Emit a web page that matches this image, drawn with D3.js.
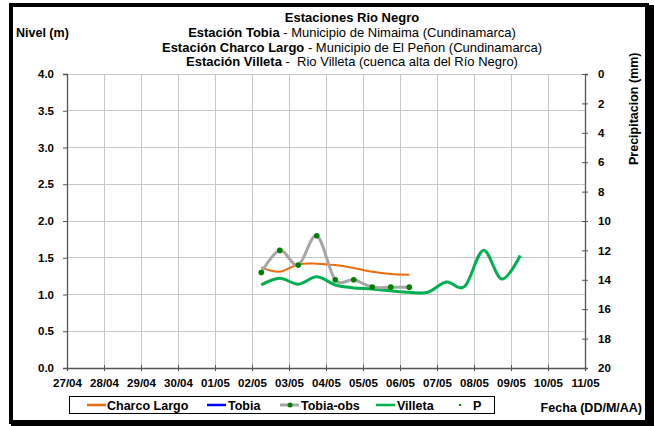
<!DOCTYPE html>
<html><head><meta charset="utf-8">
<script src="https://cdn.jsdelivr.net/npm/d3@7"></script>
<style>
html,body{margin:0;padding:0;background:#fff;}
svg{display:block;font-family:"Liberation Sans",Arial,sans-serif;}
</style></head>
<body>
<svg id="c" width="654" height="426"></svg>
<script>
// ---- data ----
const xTickLabels = ["27/04","28/04","29/04","30/04","01/05","02/05","03/05","04/05","05/05","06/05","07/05","08/05","09/05","10/05","11/05"];
const levelTicks = [0,0.5,1,1.5,2,2.5,3,3.5,4];
const precipTicks = [0,2,4,6,8,10,12,14,16,18,20];

const obsTimes = ["2011-05-02 06:00","2011-05-02 18:00","2011-05-03 06:00","2011-05-03 18:00","2011-05-04 06:00","2011-05-04 18:00","2011-05-05 06:00","2011-05-05 18:00","2011-05-06 06:00"];
const tobiaObs = [1.30,1.60,1.40,1.80,1.20,1.20,1.10,1.10,1.10];
const charcoLargo = [1.37,1.31,1.41,1.42,1.40,1.36,1.31,1.28,1.27];

const villetaTimes = ["2011-05-02 06:00","2011-05-02 18:00","2011-05-03 06:00","2011-05-03 18:00","2011-05-04 06:00","2011-05-04 18:00","2011-05-05 06:00","2011-05-05 18:00","2011-05-06 06:00","2011-05-06 18:00","2011-05-07 06:00","2011-05-07 18:00","2011-05-08 06:00","2011-05-08 18:00","2011-05-09 06:00"];
const villeta = [1.13,1.22,1.14,1.24,1.13,1.09,1.075,1.05,1.03,1.03,1.17,1.11,1.60,1.21,1.53];

const tobiaTimes = [];
const tobia = [];
const pTimes = [];
const precip = [];

const legendNames = ["Charco Largo","Tobia","Tobia-obs","Villeta","P"];

// ---- chart ----
const svg = d3.select("#c");
const parse = d3.utcParse("%Y-%m-%d %H:%M");
const L = 67, R = 585, T = 74, B = 368;

const x = d3.scaleUtc().domain([Date.UTC(2011,3,27), Date.UTC(2011,4,11)]).range([L,R]);
const y = d3.scaleLinear().domain([0,4]).range([B,T]);
const y2 = d3.scaleLinear().domain([0,20]).range([T,B]);

const days = d3.utcDay.range(Date.UTC(2011,3,27), Date.UTC(2011,4,12));

// frame
svg.append("rect").attr("x",11).attr("y",5).attr("width",636).attr("height",417)
  .attr("fill","none").attr("stroke","#000").attr("stroke-width",4);
svg.append("rect").attr("x",647).attr("y",5).attr("width",7).attr("height",421).attr("fill","#000");
svg.append("rect").attr("x",11).attr("y",422).attr("width",643).attr("height",4).attr("fill","#000");

// grid
const g = svg.append("g");
g.selectAll("line.h").data(levelTicks).join("line")
  .attr("x1",L).attr("x2",R).attr("y1",d=>y(d)).attr("y2",d=>y(d))
  .attr("stroke","#c8c8c8").attr("stroke-width",1).attr("shape-rendering","crispEdges");
g.selectAll("line.v").data(days).join("line")
  .attr("x1",d=>x(d)).attr("x2",d=>x(d)).attr("y1",T).attr("y2",B)
  .attr("stroke","#c8c8c8").attr("stroke-width",1).attr("shape-rendering","crispEdges");

// axes
const axisColor = "#555";

const ay = svg.append("g").attr("transform",`translate(${L},0)`)
  .call(d3.axisLeft(y).tickValues(levelTicks).tickFormat(d3.format(".1f")).tickSize(4).tickPadding(9));
const ay2 = svg.append("g").attr("transform",`translate(${R},0)`)
  .call(d3.axisRight(y2).tickValues(precipTicks).tickSize(3).tickPadding(10));
ay2.selectAll(".tick line").attr("x1",-3).attr("x2",3);
const ax = svg.append("g").attr("transform",`translate(0,${B})`)
  .call(d3.axisBottom(x).tickValues(days).tickFormat((d,i)=>xTickLabels[i]).tickSize(3).tickPadding(8));
ax.selectAll(".tick line").attr("y1",-3).attr("y2",3);

[ay,ay2,ax].forEach(a=>{
  a.select(".domain").attr("stroke",axisColor).attr("stroke-width",1.3);
  a.selectAll(".tick line").attr("stroke",axisColor);
  a.selectAll("text").attr("fill","#000").attr("font-size","11.5px").attr("font-weight","bold")
   .attr("font-family","Liberation Sans, Arial, sans-serif");
});

// lines
const curve = d3.curveCardinal.tension(0);
const mk = (times, vals) => times.map((t,i)=>({t:parse(t), v:vals[i]}));
const line = d3.line().x(d=>x(d.t)).y(d=>y(d.v)).curve(curve);

const clrOrange = "#ef6c0c", clrBlue = "#0000ff", clrGray = "#a6a6a6", clrGreen = "#00b050", clrDot = "#008000";

svg.append("path").datum(mk(tobiaTimes,tobia)).attr("d",line).attr("fill","none").attr("stroke",clrBlue).attr("stroke-width",2);
svg.append("path").datum(mk(villetaTimes,villeta)).attr("d",line).attr("fill","none").attr("stroke",clrGreen).attr("stroke-width",3);
svg.append("path").datum(mk(obsTimes,charcoLargo)).attr("d",line).attr("fill","none").attr("stroke",clrOrange).attr("stroke-width",2);
const obsData = mk(obsTimes,tobiaObs);
svg.append("path").datum(obsData).attr("d",line).attr("fill","none").attr("stroke",clrGray).attr("stroke-width",3);
svg.selectAll("circle.obs").data(obsData).join("circle")
  .attr("cx",d=>x(d.t)).attr("cy",d=>y(d.v)).attr("r",2.8).attr("fill",clrDot);
svg.selectAll("circle.p").data(mk(pTimes,precip)).join("circle")
  .attr("cx",d=>x(d.t)).attr("cy",d=>y2(d.v)).attr("r",1.5).attr("fill",clrDot);

// titles
const title = svg.append("g").attr("text-anchor","middle").attr("font-size","13px");
title.append("text").attr("x",352).attr("y",22).attr("font-weight","bold").text("Estaciones Rio Negro");
const tl = [
  ["Estación Tobia"," - Municipio de Nimaima (Cundinamarca)",37],
  ["Estación Charco Largo"," - Municipio de El Peñon (Cundinamarca)",51.5],
  ["Estación Villeta"," -  Rio Villeta (cuenca alta del Río Negro)",66]
];
tl.forEach(([b,r,yy])=>{
  const t = title.append("text").attr("x",352).attr("y",yy).style("white-space","pre");
  t.append("tspan").attr("font-weight","bold").text(b);
  t.append("tspan").text(r);
});

svg.append("text").attr("x",16).attr("y",37).attr("font-size","12.5px").attr("font-weight","bold").text("Nivel (m)");
svg.append("text").attr("transform","translate(638,165) rotate(-90)").attr("font-size","12.5px").attr("font-weight","bold").text("Precipitacion (mm)");
svg.append("text").attr("x",642).attr("y",412).attr("text-anchor","end").attr("font-size","12.5px").attr("font-weight","bold").text("Fecha (DD/M/AA)");

// legend
svg.append("rect").attr("x",69.5).attr("y",396.5).attr("width",425).attr("height",17)
  .attr("fill","#fff").attr("stroke","#000").attr("stroke-width",1);
const legColors = [clrOrange, clrBlue, clrGray, clrGreen, clrDot];
const legLineX = [87,207,280,376,null];
const legTextX = [107,228,301,397,473];
const legY = 405;
legendNames.forEach((n,i)=>{
  if (legLineX[i] !== null) {
    svg.append("line").attr("x1",legLineX[i]).attr("x2",legLineX[i]+19).attr("y1",legY).attr("y2",legY)
      .attr("stroke",legColors[i]).attr("stroke-width",i===2?3:2.5);
    if (i===2) svg.append("circle").attr("cx",legLineX[i]+10).attr("cy",legY).attr("r",2.5).attr("fill",clrDot);
  } else {
    svg.append("rect").attr("x",459).attr("y",legY-1).attr("width",2).attr("height",2).attr("fill",clrDot);
  }
  svg.append("text").attr("x",legTextX[i]).attr("y",legY+4.5).attr("font-size","12.5px").attr("font-weight","bold").text(n);
});
</script>
</body></html>
